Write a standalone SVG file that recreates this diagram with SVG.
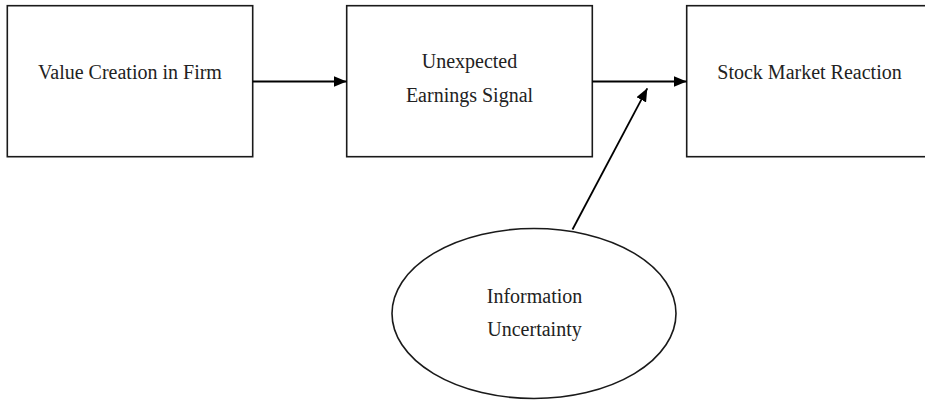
<svg xmlns="http://www.w3.org/2000/svg" width="925" height="401" viewBox="0 0 925 401">
<style>
.box{fill:#fff;stroke:#1a1a1a;stroke-width:1.6}
.lbl{font-family:"Liberation Serif","Times New Roman",serif;font-size:20px;fill:#222;text-anchor:middle}
.conn{stroke:#000;stroke-width:1.8;fill:none}
</style>
<defs>
<marker id="ah" viewBox="0 0 10 10" refX="10" refY="5" markerWidth="13" markerHeight="11" preserveAspectRatio="none" markerUnits="userSpaceOnUse" orient="auto">
<path d="M0,0 L10,5 L0,10 Z" fill="#000"/>
</marker>
</defs>
<rect width="925" height="401" fill="#fff"/>
<g id="node-value">
<rect class="box" x="7.3" y="5.7" width="245.4" height="151"/>
<text class="lbl" x="130" y="79">Value Creation in Firm</text>
</g>
<g id="node-signal">
<rect class="box" x="346.7" y="5.7" width="245.6" height="151"/>
<text class="lbl" x="469.5" y="68">Unexpected</text>
<text class="lbl" x="469.5" y="101.5">Earnings Signal</text>
</g>
<g id="node-reaction">
<rect class="box" x="686.7" y="5.7" width="246" height="151"/>
<text class="lbl" x="809.5" y="79">Stock Market Reaction</text>
</g>
<g id="node-uncertainty">
<ellipse class="box" cx="534" cy="313.5" rx="142" ry="85"/>
<text class="lbl" x="534.5" y="303">Information</text>
<text class="lbl" x="534.5" y="336">Uncertainty</text>
</g>
<g id="connectors">
<line class="conn" x1="252.7" y1="81.5" x2="346.7" y2="81.5" marker-end="url(#ah)"/>
<line class="conn" x1="592.3" y1="81.5" x2="686.7" y2="81.5" marker-end="url(#ah)"/>
<line class="conn" x1="572.5" y1="229.5" x2="647.3" y2="88.3" marker-end="url(#ah)"/>
</g>
</svg>
